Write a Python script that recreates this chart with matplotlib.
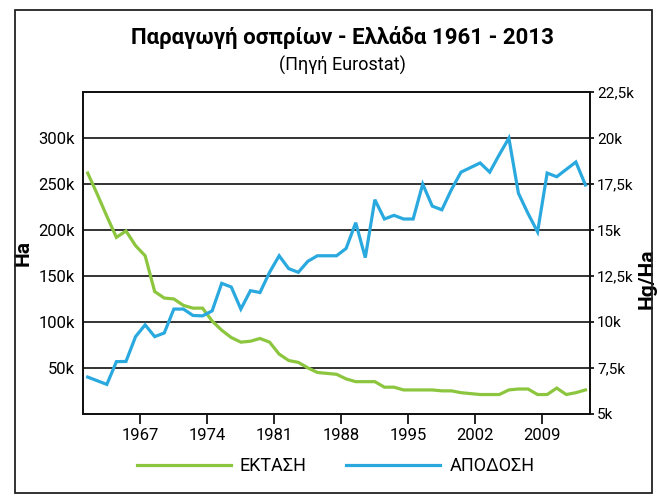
import matplotlib
matplotlib.use("Agg")
import matplotlib.pyplot as plt
from matplotlib.lines import Line2D
from matplotlib.patches import Rectangle
import numpy as np

plt.rcParams['font.family'] = ['Roboto', 'DejaVu Sans']

# Data
years = np.arange(1961, 2014)

# ΕΚΤΑΣΗ, thousands of Ha
ektasi = [262, 239, 215, 192, 199, 183, 172, 133, 126, 125,
          118, 115, 115, 101, 91, 83, 78, 79, 82, 78,
          65, 58, 56, 50, 45, 44, 43, 38, 35, 35,
          35, 29, 29, 26, 26, 26, 26, 25, 25, 23,
          22, 21, 21, 21, 26, 27, 27, 21, 21, 28,
          21, 23, 26]

# ΑΠΟΔΟΣΗ, thousands of Hg/Ha
apodosi = [7.0, 6.8, 6.6, 7.84, 7.85, 9.2, 9.84, 9.2, 9.4, 10.7,
           10.7, 10.35, 10.33, 10.6, 12.1, 11.9, 10.7, 11.7, 11.6, 12.7,
           13.6, 12.9, 12.7, 13.3, 13.6, 13.6, 13.6, 14.0, 15.4, 13.5,
           16.65, 15.6, 15.8, 15.6, 15.6, 17.5, 16.3, 16.1, 17.2, 18.15,
           18.4, 18.65, 18.15, 19.1, 20.0, 17.0, 15.9, 14.9, 18.1, 17.9,
           18.3, 18.7, 17.45]

xtick_years = [1967, 1974, 1981, 1988, 1995, 2002, 2009]
left_ticks = [50, 100, 150, 200, 250, 300]
right_ticks = [5, 7.5, 10, 12.5, 15, 17.5, 20, 22.5]

green = '#8cc63e'
blue = '#2aa9df'

fig = plt.figure(figsize=(6.58, 5.01), dpi=100)
ax1 = fig.add_axes([0.126, 0.174, 0.771, 0.642])
ax2 = ax1.twinx()

x = years + 0.5  # points sit mid-year
ax1.plot(x, ektasi, color=green, lw=2.3, solid_joinstyle='miter')
ax2.plot(x, apodosi, color=blue, lw=2.3, solid_joinstyle='miter')

ax1.set_xlim(1961, 2014)
ax1.set_ylim(0, 350)
ax2.set_ylim(5, 22.5)

# gridlines
for v in left_ticks:
    ax1.axhline(v, color='#111111', lw=1.2, zorder=0)

ax1.set_xticks(xtick_years)
ax1.set_xticklabels([str(y) for y in xtick_years], fontsize=12)
ax1.tick_params(axis='x', direction='out', length=7, width=1.2, pad=3)

ax1.set_yticks(left_ticks)
ax1.set_yticklabels([f'{v}k' for v in left_ticks], fontsize=12)
ax1.tick_params(axis='y', length=0, pad=6)

ax2.set_yticks(right_ticks)
ax2.set_yticklabels([(f'{v:g}k').replace('.', ',') for v in right_ticks], fontsize=11)
ax2.tick_params(axis='y', length=3, width=1.2, pad=2)

for a in (ax1, ax2):
    for s in a.spines.values():
        s.set_linewidth(1.3)
        s.set_color('#111111')

ax1.set_ylabel('Ha', fontsize=15, fontweight='bold')
ax1.yaxis.set_label_coords(-0.1, 0.5)
ax2.set_ylabel('Hg/Ha', fontsize=15, fontweight='bold')
ax2.yaxis.set_label_coords(1.093, 0.42)

fig.text(0.52, 0.926, 'Παραγωγή οσπρίων - Ελλάδα 1961 - 2013',
         ha='center', va='center', fontsize=16, fontweight='bold')
fig.text(0.52, 0.870, '(Πηγή Eurostat)', ha='center', va='center', fontsize=13)

handles = [Line2D([], [], color=green, lw=2.3), Line2D([], [], color=blue, lw=2.3)]
fig.legend(handles, ['ΕΚΤΑΣΗ', 'ΑΠΟΔΟΣΗ'], loc='center', bbox_to_anchor=(0.51, 0.07),
           ncol=2, frameon=False, fontsize=13, handlelength=5.2, columnspacing=2.2,
           handletextpad=0.5)

# page frame of the scan
fig.patches.append(Rectangle((0.023, 0.016), 0.968, 0.964, transform=fig.transFigure,
                             fill=False, lw=1.3, ec='#222222'))

fig.savefig('out.png', dpi=100)
